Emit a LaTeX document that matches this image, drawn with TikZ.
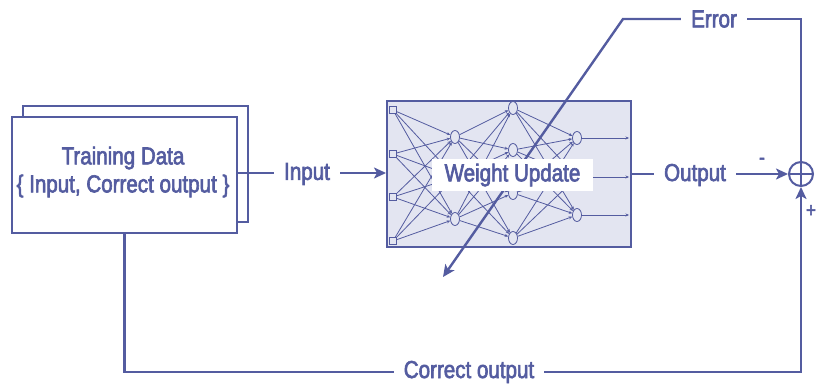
\documentclass[tikz,border=0pt]{standalone}
\usepackage{fontspec}
\setmainfont[FakeStretch=0.84,FakeBold=2.5]{Liberation Sans}
\usetikzlibrary{arrows.meta,shapes.geometric}
\definecolor{ink}{RGB}{84,92,160}
\definecolor{netfill}{RGB}{227,229,241}

\begin{document}
\begin{tikzpicture}[x=1pt,y=-1pt,
  every node/.style={text=ink},
  lbl/.style={font=\fontsize{24.5}{28}\selectfont, inner sep=0pt, inner xsep=10pt},
  conn/.style={draw=ink, line width=2.4pt},
  bigtip/.style={-{Stealth[length=12pt,width=11pt,inset=3pt]}},
  databox/.style={draw=ink, fill=white, line width=2.2pt, minimum width=225pt,
    minimum height=116pt, inner sep=0pt},
  insq/.style={draw=ink, fill=netfill, line width=0.8pt, minimum size=7pt, inner sep=0pt},
  neu/.style={ellipse, draw=ink, fill=netfill, line width=0.8pt, minimum width=9pt,
    minimum height=13pt, inner sep=0pt},
  wire/.style={draw=ink, line width=0.8pt, -{Stealth[length=3.5pt,width=3pt]}},
  sign/.style={font=\fontsize{20}{20}\selectfont, inner sep=0pt}
]
\useasboundingbox (0,0) rectangle (818,385);

% training data: a stack of two sheets
\node[databox] (trainback) at (135.5,164) {};
\node[databox] (train) at (124.5,175) {};
\node[lbl, align=center] (traintext) at (123,172)
  {Training Data\\\{ Input, Correct output \}};

% the network block
\node[draw=ink, fill=netfill, line width=2pt, minimum width=244pt,
  minimum height=146pt, inner sep=0pt] (net) at (509,174) {};

\foreach \y [count=\i] in {110,154,197,241} \node[insq] (a\i) at (393,\y) {};
\foreach \y [count=\i] in {137,177,219} \node[neu] (b\i) at (455,\y) {};
\foreach \y [count=\i] in {108,150,193,238} \node[neu] (c\i) at (513,\y) {};
\foreach \y [count=\i] in {138,177,215} \node[neu] (d\i) at (577,\y) {};

\foreach \i in {1,...,4} \foreach \j in {1,...,3} \draw[wire] (a\i) -- (b\j);
\foreach \i in {1,...,3} \foreach \j in {1,...,4} \draw[wire] (b\i) -- (c\j);
\foreach \i in {1,...,4} \foreach \j in {1,...,3} \draw[wire] (c\i) -- (d\j);
\foreach \i in {1,...,3} \draw[wire, shorten >=3pt] (d\i.east) -- (d\i.east -| net.east);

% labels along the loop
\node[lbl] (inp) at (307,174) {Input};
\node[lbl] (outl) at (695,175) {Output};
\node[lbl] (err) at (714,19) {Error};
\node[lbl] (corr) at (469,372) {Correct output};

% summing junction
\node[circle, draw=ink, line width=2pt, minimum size=24pt, inner sep=0pt] (sum) at (801,174) {};
\draw[ink, line width=1.6pt] (sum.north) -- (sum.south) (sum.west) -- (sum.east);
\node[sign] (minus) at (762,161) {-};
\node[sign] (plus) at (811,211) {+};

% forward path
\coordinate (inlvl) at (0,173);
\draw[conn] (train.east |- inlvl) -- (inp.west |- inlvl);
\draw[conn, bigtip] (inp.east |- inlvl) -- (net.west |- inlvl);
\draw[conn] (net.east |- sum) -- (outl.west |- sum);
\draw[conn, bigtip] (outl.east |- sum) -- (sum.west);

% target path
\draw[conn] (train.south) |- (corr.west);
\draw[conn, bigtip] (corr.east) -| (sum.south);

% error fed back across the weights
\coordinate (errc) at (623,19);
\coordinate (wtip) at (443,277);
\draw[conn] (sum.north) |- (err.east);
\draw[conn, bigtip] (err.west) -- (errc) -- (wtip);

\node[fill=white, minimum width=161pt, minimum height=32pt, inner sep=0pt,
  font=\fontsize{24.5}{28}\selectfont] (wu) at (512.5,175) {Weight Update};
\end{tikzpicture}
\end{document}
